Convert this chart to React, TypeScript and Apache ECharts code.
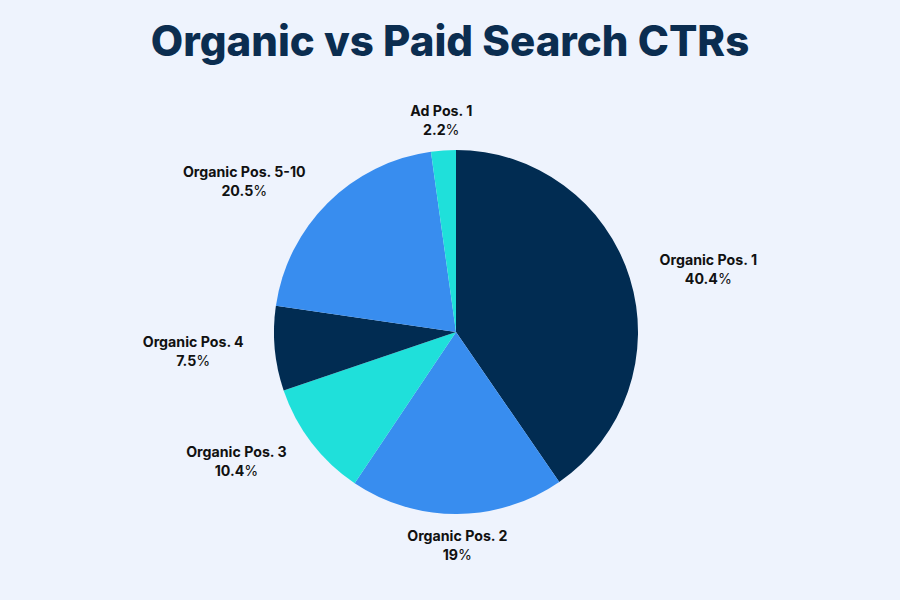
import * as echarts from "echarts"
import { useEffect, useRef } from "react"

const categories = [
  "Organic Pos. 1",
  "Organic Pos. 2",
  "Organic Pos. 3",
  "Organic Pos. 4",
  "Organic Pos. 5-10",
  "Ad Pos. 1",
]
const shares = [40.4, 19, 10.4, 7.5, 20.5, 2.2]

const navy = "#012c52"
const blue = "#388def"
const cyan = "#1fe0da"
const sliceColors = [navy, blue, cyan, navy, blue, cyan]

const bg = "#eef3fd"
const fontFamily = "Inter, 'Noto Sans', sans-serif"

// angle of the slice middle, clockwise from 12 o'clock
const midAngle = (i: number) => {
  const total = shares.reduce((a, b) => a + b, 0)
  const before = shares.slice(0, i).reduce((a, b) => a + b, 0)
  return ((before + shares[i] / 2) / total) * Math.PI * 2
}

export default function App() {
  const chartRef = useRef<HTMLDivElement>(null)

  useEffect(() => {
    if (!chartRef.current) return
    const chart = echarts.init(chartRef.current, null, { renderer: "svg" })

    const labelText = { fontFamily, fontSize: 14.2, color: "#111111", lineHeight: 19, align: "center" as const }

    chart.setOption({
      animation: false,
      backgroundColor: bg,
      title: {
        text: "Organic vs Paid Search CTRs",
        left: "center",
        top: 14,
        textStyle: { fontFamily, fontSize: 42, fontWeight: 800, color: "#0b2d50" },
      },
      series: [
        {
          type: "pie",
          center: [456, 332],
          radius: 182,
          startAngle: 90,
          clockwise: true,
          avoidLabelOverlap: false,
          data: categories.map((name, i) => ({
            name,
            value: shares[i],
            itemStyle: { color: sliceColors[i] },
          })),
          itemStyle: { borderWidth: 0 },
          label: {
            show: true,
            position: "outside",
            distanceToLabelLine: 0,
            formatter: (p: any) => `{name|${p.name}}\n{num|${p.value}}{pct|%}`,
            rich: {
              name: { ...labelText, fontWeight: 700 },
              num: { ...labelText, fontWeight: 700 },
              pct: { ...labelText, fontWeight: 400 },
            },
          },
          labelLine: { show: false, length: 31, length2: 0 },
          labelLayout: (params: any) => {
            if (Math.abs(Math.sin(midAngle(params.dataIndex))) < 0.3) {
              return { align: "center" }
            }
            return {}
          },
          emphasis: { disabled: true },
        },
      ],
    })

    return () => chart.dispose()
  }, [])

  return (
    <div
      ref={chartRef}
      style={{ position: "absolute", left: 0, top: 0, width: 900, height: 600 }}
    />
  )
}
